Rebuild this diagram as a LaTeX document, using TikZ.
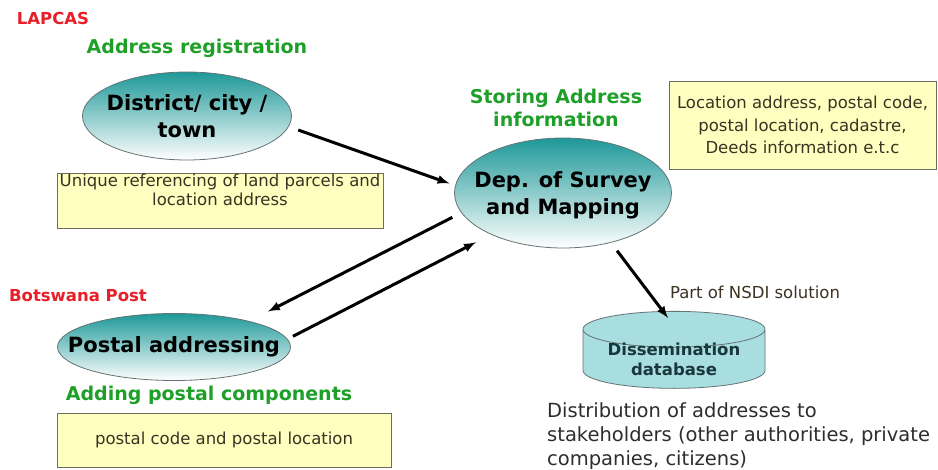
\documentclass[tikz,border=0pt]{standalone}
\usepackage{fontspec}
\setmainfont{DejaVu Sans}
\usepackage{tikz}
\usetikzlibrary{shapes.geometric, arrows}

\definecolor{turcoaz}{RGB}{30,152,152}
\definecolor{bordura}{RGB}{100,115,115}
\definecolor{galben}{RGB}{255,255,192}
\definecolor{ramanota}{RGB}{110,110,95}
\definecolor{textnota}{RGB}{60,50,35}
\definecolor{verde}{RGB}{30,160,40}
\definecolor{rosu}{RGB}{232,30,40}
\definecolor{cilindru}{RGB}{168,222,224}
\definecolor{textbaza}{RGB}{25,55,60}
\definecolor{gri}{RGB}{45,45,45}

\begin{document}
\begin{tikzpicture}[x=1pt, y=-1pt]
        \useasboundingbox (0,0) rectangle (938,470);

        % Stilurile.
        \tikzstyle{bula} = [ellipse, draw=bordura, line width=0.8pt, top color=turcoaz, bottom color=white,
            font=\bfseries\fontsize{21}{27}\selectfont, align=center, inner xsep=-30pt, inner ysep=-8pt]
        \tikzstyle{nota} = [rectangle, draw=ramanota, line width=0.8pt, fill=galben, text=textnota,
            font=\fontsize{16.5}{22.5}\selectfont, align=center, inner sep=0pt]
        \tikzstyle{titlu} = [text=verde, font=\bfseries\fontsize{19}{23}\selectfont, align=center, inner sep=0pt]
        \tikzstyle{firma} = [text=rosu, font=\bfseries\fontsize{16.5}{18}\selectfont, inner sep=0pt]

        % Institutiile si titlurile.
        \node[firma] (lapcas) at (53,18) {LAPCAS};
        \node[firma] (botswana) at (78,296) {Botswana Post};
        \node[titlu] (inregistrare) at (197,48) {Address registration};
        \node[titlu] (stocare) at (556,108) {Storing Address\\information};
        \node[titlu] (componente) at (209,395) {Adding postal components};

        % Elipsele.
        \node[bula, minimum width=209, minimum height=88] (district) at (187,116) {District/ city /\\town};
        \node[bula, minimum width=217, minimum height=110, text depth=-19pt] (dsm) at (563,193)
            {Dep. of Survey\\and Mapping};
        \node[bula, minimum width=233, minimum height=67] (postal) at (174,347) {Postal addressing};

        % Notele galbene.
        \node[nota, minimum width=326, minimum height=55, font=\fontsize{16.5}{19}\selectfont,
            text depth=21pt] (unic) at (220,200.5)
            {Unique referencing of land parcels and\\location address};
        \node[nota, minimum width=267, minimum height=88] (locatie) at (802.5,125)
            {Location address, postal code,\\postal location, cadastre,\\Deeds information e.t.c};
        \node[nota, minimum width=334, minimum height=54] (cod) at (224,440)
            {postal code and postal location};

        % Baza de date.
        \node[cylinder, shape border rotate=90, aspect=0.27, draw=bordura, line width=0.8pt, fill=cilindru,
            minimum width=182, minimum height=77, align=center, text=textbaza,
            font=\bfseries\fontsize{16.5}{20}\selectfont, inner xsep=0pt, inner ysep=-12pt] (baza) at (674,359)
            {Dissemination\\database};
        \node[text=textnota, font=\fontsize{16.5}{18}\selectfont, inner sep=0pt] (nsdi) at (755,292)
            {Part of NSDI solution};
        \node[text=gri, font=\fontsize{19.5}{24}\selectfont, align=left, inner sep=0pt, anchor=north west]
            (distributie) at (547,402)
            {Distribution of addresses to\\stakeholders (other authorities, private\\companies, citizens)};

        % Sagetile.
        \tikzstyle{sageata} = [->, >=latex, line width=3pt]
        \draw[sageata, shorten <=10pt, shorten >=6pt] (district.-6) -- (dsm.176);
        \draw[sageata, shorten <=10pt, shorten >=21pt] (dsm.191) -- (postal.19);
        \draw[sageata, shorten <=6pt, shorten >=17pt] (postal.4) -- (dsm.210);
        \draw[sageata, shorten <=10pt] (dsm.-46) -- ([xshift=-6pt, yshift=-7pt]baza.top);
    \end{tikzpicture}
\end{document}
